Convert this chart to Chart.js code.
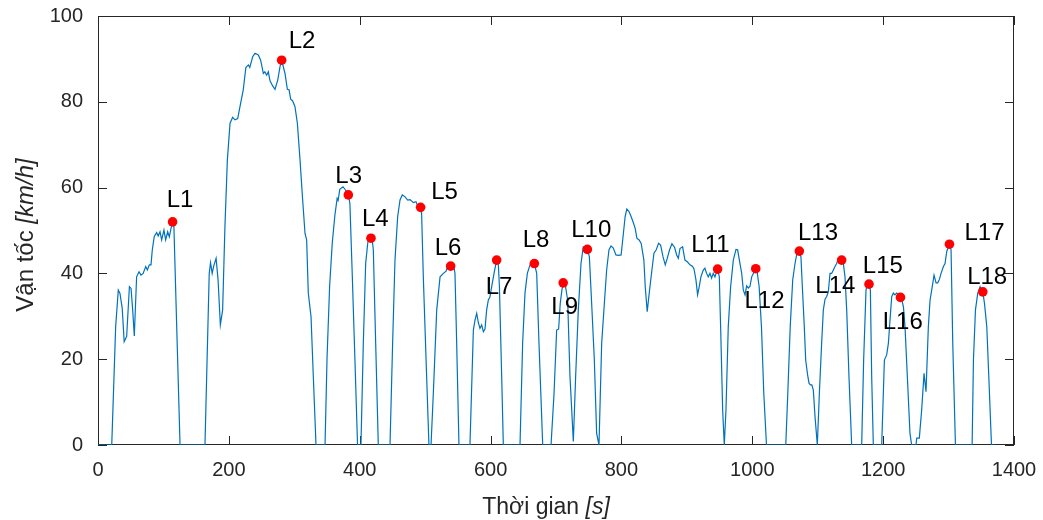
<!DOCTYPE html>
<html><head><meta charset="utf-8">
<script src="https://cdn.jsdelivr.net/npm/chart.js@4/dist/chart.umd.min.js"></script>
<style>html,body{margin:0;padding:0;background:#fff;}#wrap{width:1043px;height:520px;position:relative;}</style>
</head><body><div id="wrap"><canvas id="c" width="1043" height="520"></canvas></div>
<script>
const times = [0,21,27,31,33.5,37,40,43.8,48,50.5,53,55.5,59,62.7,65.7,69,73,75.4,78.5,81,83,86,89.7,92,94.8,97.3,100.8,103.4,106.5,109,111.6,114,116,125.4,
163.5,170,172,174.5,177,180.5,183.5,187,190.5,194,197.7,201.8,205.8,209.4,213.5,217,222,226,229.8,232,236.4,240,245,248.6,252.7,255,257.8,260.3,262.9,267,270.5,274.6,278.2,280.7,285.8,289.4,292,294.5,297.5,301,304.7,308.8,312.8,316.4,318.9,321.4,325.6,329.1,333.2,
347,350,354,358,362,365.5,367,369.5,374.5,378,382.6,385,388.7,392.7,396.7,401.9,405.5,409.1,412.2,414.5,417.2,419,420.8,424.4,428.4,
446.3,450.3,453.9,458,461.6,465.1,469,473.4,477,482,486,489,493.1,494.6,497.2,502.3,505.8,509,512.5,517.7,522.8,527.9,532,535,539,543,545.6,548.2,551.7,
568.5,573.7,576.2,578.8,581.3,583.8,586.4,589,591.5,594,596.6,599,601.7,605.3,609.3,611.9,613.5,617,619.5,
645,649,652.6,656.2,660.3,664,666.9,670.5,674,679.7,692.4,697,701,704,706.5,709,711,714.6,717.8,721.4,726.5,730,734.1,738.2,741.7,745,747.9,751,754.5,758.6,762.1,765.7,
769.8,773.9,777.4,781,784.1,787.6,791.6,795.5,799.5,803,805.6,808.2,811.6,814.9,818.5,821,823.6,827,830.2,834.3,836.4,839.4,843,846.6,849.7,853.2,856.8,859.9,863.5,867,870,873.6,877.2,881.2,884.4,887,889.5,893.5,897.1,900.7,904.8,908.8,911,913.9,916.4,918.9,921.5,925.1,927.6,930.2,932.7,935.3,937.8,940.3,942.9,947,949.6,951.6,954.7,957.2,959.8,963.3,966.9,971,975.1,977.6,981.2,983.8,986.3,988.9,991.4,994,996.5,999.1,1001.6,1005.3,1007.4,1010.5,1014,1017.6,1021.7,
1051.2,1054.5,1058,1061.8,1065.3,1069.3,1071.9,1074.4,1076.5,1079.5,1081.6,1084.6,1086.7,1088.7,1091,1093.3,1095.9,1099.4,1102.5,1106,1108.6,1111.2,1113.7,1116.2,1118.8,1121.3,1123.9,1126.4,1129,1131.5,1136.6,1139.2,1141.7,1144.3,1147.8,1151.9,
1167.2,1170.2,1173.8,1176,1178.4,1180.5,1182.5,1185,1197.8,1201.9,1205.4,1208,1210.5,1213.1,1215.6,1218.1,1220.7,1224,1226.5,1229,1231,1233.4,1237,1241,1243.6,1250.2,1251.3,1255.3,1258.9,1262.5,1265.5,1269.1,1271.7,1274.2,1277.8,1280.9,1283.5,1286,1288.5,1292.1,1294.6,1297.2,1301.3,1303.8,1306.4,1310.5,
1336,1338,1341.1,1344.6,1348.2,1352.3,1354.9,1358.4,1361.5,1365.6,1370];
const speeds = [0,0,27.6,36.1,35.4,31.9,24.1,25.3,36.9,36.5,31.5,25.4,39.2,40.4,39.6,40,41.6,40.8,42,42,45.5,48.6,49.5,48.7,49.7,47.8,50.1,47.8,49.7,48.5,50.5,52,50.9,0,
0,40,42.5,40,41.8,43.5,38.5,28,31.5,50.9,66.4,75,76.4,75.8,76.1,78.9,82.8,88,88.6,88,90.5,91.3,90.9,89.7,86.6,87,86.2,87,84.9,83.7,82.9,85,88.2,89.7,86.6,82.9,82.8,80.6,80.2,78.9,75,66.4,57.1,49.3,47.8,35.4,29.9,15.9,0,
0,20,37,47,53.5,57.5,57,59.6,60.2,59.5,58.3,56.3,39.2,19.8,0,0,23.7,42.3,47,48.5,48.2,48,45.5,23.7,0,
0,23.7,43.1,53.2,57.1,58.3,57.9,57.1,57.2,56.5,56.7,55.6,55.4,54,39.2,15.9,0,0,12,31.5,39.2,40,40.5,42,41.7,42.3,40,23.7,0,
0,26.8,29.1,30.7,28.5,27.2,28,26.4,27,31.5,33.8,34.5,36.9,40,43.1,42,37,15.9,0,
0,23.7,35.4,40,42,42.5,42.3,40,23.7,0,0,12,26.8,27,33,36.1,37.8,36.9,33.8,15.9,0.8,15.9,31.5,42.3,46.2,46,45.6,43.9,33,19.8,2.7,0,
23.7,33,40.8,45.5,46.4,45.9,44.3,44.2,44.3,49.3,53.2,55,54.4,53.2,51.7,50.5,48.2,47.8,47,43.1,36.9,31.1,36.1,40.8,44.7,45.5,47,46.6,43.9,42,43.5,45.5,46.9,46.1,44.3,43.5,45.8,46.2,43.1,42.7,42,41.6,41,38.5,35,36.9,39.2,40.8,41.2,40,39.2,40,38.9,40,39.2,41,39.2,27.6,8.2,0,8.2,27.6,36.9,43.1,45.6,45.5,42.3,40,36.1,35,37.1,36.6,37,39.2,40,41.1,40.4,36.9,27.6,12,0,
0,13,27.6,38.5,42.3,45.6,45.2,43.8,36.9,27.6,19.8,16.3,14.4,14,14,12.8,6.6,0,12,23.7,31.5,34,34.6,35.7,40,40,40.8,41.6,42.3,43.5,43.1,42.3,39.2,31.5,15.9,0,
0,19.8,36.1,37.5,37.5,36.1,15.9,0,0,19.8,21,23.7,29.1,34.6,35.4,35,35.4,35,34.4,33.5,32.2,27.6,15.9,2.7,0,0,1.6,1.6,8.2,16.7,12.4,27.6,33.8,36.1,39.6,37.8,37.8,38.6,40,41.6,42.3,45.1,46.8,45.5,23.7,0,
0,19.8,31.5,35.4,36.9,35.7,33,27.6,15.9,0,0];

const markerNames = ['L1','L2','L3','L4','L5','L6','L7','L8','L9','L10','L11','L12','L13','L14','L15','L16','L17','L18'];
const markerTimes = [114,280.7,382.6,417.2,493.1,539,609.3,666.9,711,747.9,947,1005.3,1071.9,1136.6,1178.4,1226.5,1301.3,1352.3];
const markerSpeeds = [52,89.7,58.3,48.2,55.4,41.7,43.1,42.3,37.8,45.6,41,41.1,45.2,43.1,37.5,34.4,46.8,35.7];
const labelTimes = [125.3,311.8,383.2,423.8,529.6,534.9,612.9,669.4,713.3,753.9,936.1,1018.6,1100.4,1126.9,1199.5,1230,1354.9,1359];
const labelSpeeds = [55.5,92.5,61.1,51.0,57.3,44.3,35.2,46.1,30.5,48.4,44.9,31.9,47.8,35.4,40.0,27.0,47.9,37.5];

const xTicks = [0,200,400,600,800,1000,1200,1400];
const yTicks = [0,20,40,60,80,100];
const xTitle = ['Thời gian ', '[s]'];
const yTitle = ['Vận tốc ', '[km/h]'];

const FONT = '"Liberation Sans", Arial, sans-serif';
const AX = '#262626';

const framePlugin = {
  id: 'frame',
  beforeDatasetsDraw(chart) {
    const {ctx, chartArea: a, scales: {x, y}} = chart;
    ctx.save();
    ctx.strokeStyle = AX;
    ctx.lineWidth = 1;
    ctx.beginPath();
    xTicks.forEach(v => {
      const px = Math.round(x.getPixelForValue(v)) + 0.5;
      ctx.moveTo(px, a.bottom); ctx.lineTo(px, a.bottom - 9);
      ctx.moveTo(px, a.top); ctx.lineTo(px, a.top + 9);
    });
    yTicks.forEach(v => {
      const py = Math.round(y.getPixelForValue(v)) + 0.5;
      ctx.moveTo(a.left, py); ctx.lineTo(a.left + 9, py);
      ctx.moveTo(a.right, py); ctx.lineTo(a.right - 9, py);
    });
    ctx.stroke();
    ctx.strokeRect(Math.round(a.left) + 0.5, Math.round(a.top) + 0.5, Math.round(a.width) - 1, Math.round(a.height) - 1);
    ctx.restore();
  },
  afterDraw(chart) {
    const {ctx, chartArea: a} = chart;
    ctx.save();
    ctx.fillStyle = AX;
    ctx.textBaseline = 'alphabetic';
    ctx.textAlign = 'left';
    // x title
    let fN = '23px ' + FONT, fI = 'italic 23px ' + FONT;
    ctx.font = fN; const w1 = ctx.measureText(xTitle[0]).width;
    ctx.font = fI; const w2 = ctx.measureText(xTitle[1]).width;
    let sx = 546 - (w1 + w2) / 2;
    ctx.font = fN; ctx.fillText(xTitle[0], sx, 514);
    ctx.font = fI; ctx.fillText(xTitle[1], sx + w1, 514);
    // y title
    fN = '24px ' + FONT; fI = 'italic 24px ' + FONT;
    ctx.font = fN; const h1 = ctx.measureText(yTitle[0]).width;
    ctx.font = fI; const h2 = ctx.measureText(yTitle[1]).width;
    ctx.translate(33, 235);
    ctx.rotate(-Math.PI / 2);
    const sy = -(h1 + h2) / 2;
    ctx.font = fN; ctx.fillText(yTitle[0], sy, 0);
    ctx.font = fI; ctx.fillText(yTitle[1], sy + h1, 0);
    ctx.restore();
  }
};

const labelPlugin = {
  id: 'pointLabels',
  afterDatasetsDraw(chart) {
    const {ctx, scales: {x, y}} = chart;
    ctx.save();
    ctx.fillStyle = '#000000';
    ctx.font = '24px ' + FONT;
    ctx.textAlign = 'center';
    ctx.textBaseline = 'alphabetic';
    markerNames.forEach((n, i) => {
      ctx.fillText(n, x.getPixelForValue(labelTimes[i]), y.getPixelForValue(labelSpeeds[i]));
    });
    ctx.restore();
  }
};

const noPad = s => { s.paddingTop = 0; s.paddingBottom = 0; s.paddingLeft = 0; s.paddingRight = 0; };

new Chart(document.getElementById('c'), {
  type: 'line',
  data: {
    datasets: [
      {
        label: 'markers',
        data: markerTimes.map((t, i) => ({x: t, y: markerSpeeds[i]})),
        showLine: false,
        pointRadius: 4.8,
        pointBackgroundColor: '#FF0000',
        pointBorderColor: '#FF0000',
        pointBorderWidth: 0,
        order: 0
      },
      {
        label: 'speed',
        data: times.map((t, i) => ({x: t, y: speeds[i]})),
        borderColor: '#0072BD',
        borderWidth: 1.2,
        pointRadius: 0,
        tension: 0,
        fill: false,
        order: 1
      }
    ]
  },
  options: {
    responsive: false,
    animation: false,
    devicePixelRatio: 1,
    layout: {padding: {top: 16, right: 29, left: 0, bottom: 0}},
    plugins: {legend: {display: false}, tooltip: {enabled: false}},
    scales: {
      x: {
        type: 'linear', min: 0, max: 1400,
        afterBuildTicks: s => { s.ticks = xTicks.map(v => ({value: v})); },
        afterFit: s => { s.height = 75; noPad(s); },
        grid: {display: false, drawTicks: false, tickLength: 0},
        border: {display: false},
        ticks: {color: AX, font: {family: FONT, size: 20}, padding: 13, maxRotation: 0, autoSkip: false,
          callback: v => String(v)}
      },
      y: {
        type: 'linear', min: 0, max: 100,
        afterBuildTicks: s => { s.ticks = yTicks.map(v => ({value: v})); },
        afterFit: s => { s.width = 98; noPad(s); },
        grid: {display: false, drawTicks: false, tickLength: 0},
        border: {display: false},
        ticks: {color: AX, font: {family: FONT, size: 20}, padding: 15, callback: v => String(v)}
      }
    }
  },
  plugins: [framePlugin, labelPlugin]
});
</script>
</body></html>
